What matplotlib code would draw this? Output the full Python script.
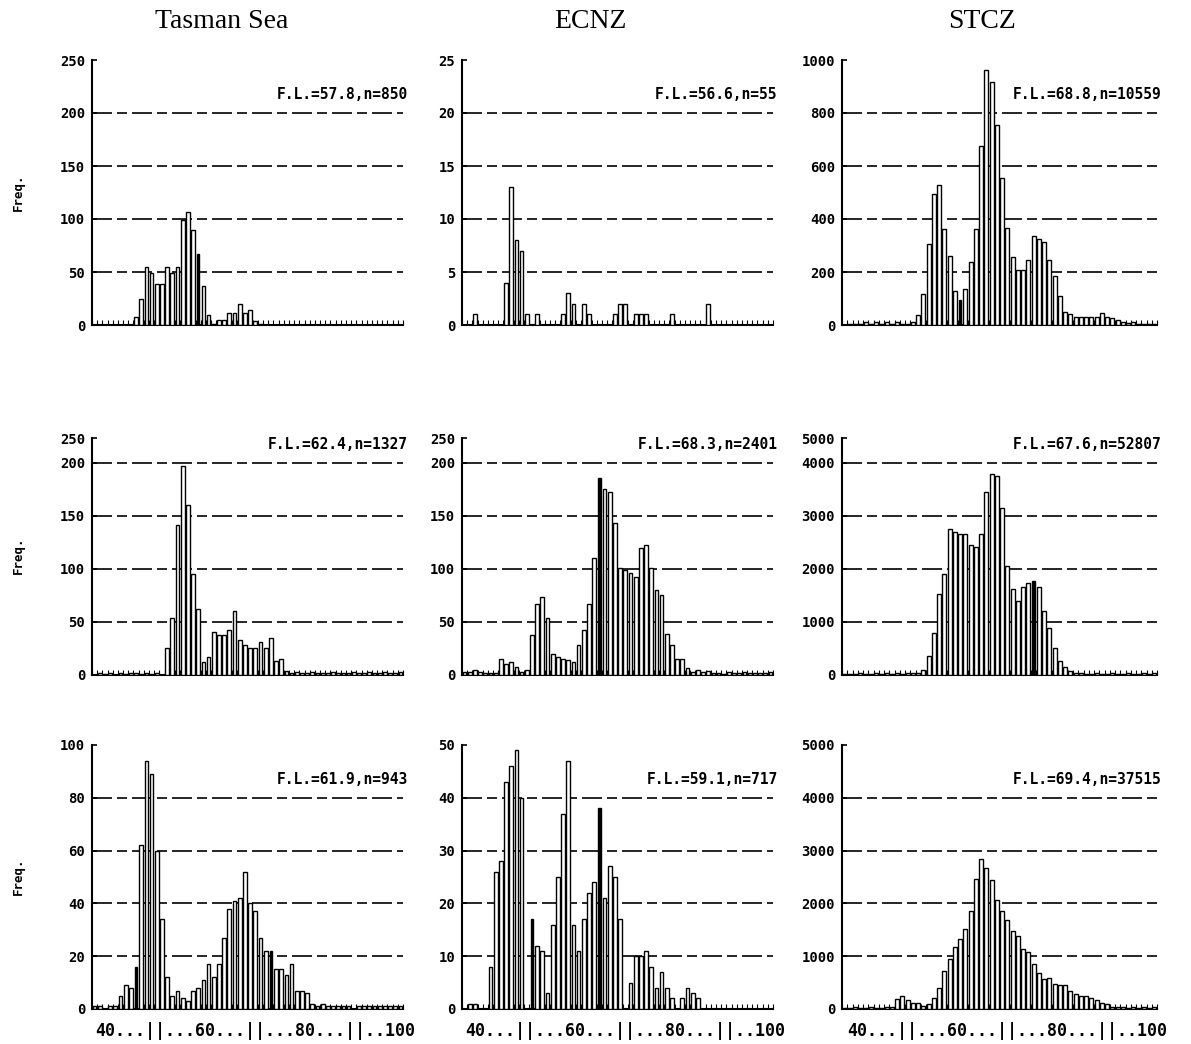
import matplotlib
matplotlib.use("Agg")
import matplotlib.pyplot as plt
import matplotlib.transforms as mtransforms
import numpy as np

# ---------------- data ----------------
regions = ["Tasman Sea", "ECNZ", "STCZ"]
length_classes = list(range(40, 100))          # 1-cm fork-length classes (left edges)
x_label_text = "40...||...60...||...80...||..100"

tasman_1 = [0, 0, 0, 0, 0, 0, 0, 0, 8, 25,
            55, 49, 39, 39, 55, 49, 55, 99, 107, 90,
            67, 37, 9, 1, 5, 5, 11, 11, 20, 11,
            14, 4, 1, 0, 0, 0, 0, 0, 0, 0,
            0, 0, 0, 0, 0, 0, 0, 0, 0, 0,
            0, 0, 0, 0, 0, 0, 0, 0, 0, 0]
ecnz_1 = [0, 0, 1, 0, 0, 0, 0, 0, 4, 13,
          8, 7, 1, 0, 1, 0, 0, 0, 0, 1,
          3, 2, 0, 2, 1, 0, 0, 0, 0, 1,
          2, 2, 0, 1, 1, 1, 0, 0, 0, 0,
          1, 0, 0, 0, 0, 0, 0, 2, 0, 0,
          0, 0, 0, 0, 0, 0, 0, 0, 0, 0]
stcz_1 = [0, 5, 5, 5, 10, 5, 10, 5, 10, 5,
          10, 5, 5, 10, 37, 118, 306, 495, 530, 363,
          260, 128, 95, 136, 239, 363, 677, 962, 916, 755,
          553, 365, 258, 207, 207, 245, 334, 326, 313, 245,
          186, 108, 50, 40, 30, 30, 30, 30, 30, 45,
          30, 25, 20, 12, 8, 10, 5, 5, 5, 5]

tasman_2 = [0, 2, 1, 2, 0, 2, 1, 2, 2, 1,
            2, 1, 2, 0, 25, 54, 141, 197, 160, 95,
            62, 12, 17, 41, 38, 38, 42, 60, 33, 28,
            25, 25, 31, 25, 35, 13, 15, 4, 2, 3,
            2, 2, 3, 2, 2, 2, 3, 2, 2, 2,
            3, 2, 2, 3, 2, 2, 3, 2, 2, 3]
ecnz_2 = [3, 3, 5, 3, 2, 2, 2, 15, 10, 12,
          8, 3, 5, 38, 67, 74, 54, 20, 17, 15,
          14, 12, 28, 42, 67, 110, 186, 175, 173, 143,
          101, 99, 96, 92, 120, 123, 101, 80, 75, 39,
          28, 15, 15, 7, 3, 5, 3, 4, 2, 2,
          1, 3, 2, 2, 3, 2, 2, 2, 2, 3]
stcz_2 = [20, 20, 20, 30, 20, 20, 30, 20, 30, 20,
          30, 20, 30, 30, 40, 88, 360, 800, 1527, 1905,
          2757, 2700, 2662, 2662, 2460, 2410, 2650, 3450, 3798, 3748,
          3155, 2050, 1621, 1388, 1653, 1729, 1780, 1653, 1211, 883,
          505, 265, 151, 76, 30, 30, 20, 20, 30, 20,
          20, 30, 20, 20, 30, 20, 20, 30, 20, 30]

tasman_3 = [1, 1, 0, 1, 1, 5, 9, 8, 16, 62,
            94, 89, 60, 34, 12, 5, 7, 4, 3, 7,
            8, 11, 17, 12, 17, 27, 38, 41, 42, 52,
            40, 37, 27, 22, 22, 15, 15, 13, 17, 7,
            7, 6, 2, 1, 2, 1, 1, 1, 1, 1,
            0, 1, 1, 1, 1, 1, 1, 1, 1, 1]
ecnz_3 = [0, 1, 1, 0, 0, 8, 26, 28, 43, 46,
          49, 40, 0, 17, 12, 11, 3, 16, 25, 37,
          47, 16, 11, 17, 22, 24, 38, 21, 27, 25,
          17, 0, 5, 10, 10, 11, 8, 4, 7, 4,
          2, 0, 2, 4, 3, 2, 0, 0, 0, 0,
          0, 0, 0, 0, 0, 0, 0, 0, 0, 0]
stcz_3 = [20, 20, 30, 20, 20, 30, 20, 20, 30, 40,
          185, 247, 167, 123, 105, 62, 93, 204, 389, 722,
          944, 1173, 1327, 1512, 1852, 2469, 2840, 2673, 2438, 2056,
          1852, 1685, 1481, 1377, 1130, 1080, 846, 679, 574, 586,
          475, 451, 451, 340, 278, 247, 247, 216, 167, 123,
          93, 40, 30, 30, 20, 30, 20, 30, 20, 30]

panel_values = [[tasman_1, ecnz_1, stcz_1],
                [tasman_2, ecnz_2, stcz_2],
                [tasman_3, ecnz_3, stcz_3]]
panel_notes = [["F.L.=57.8,n=850", "F.L.=56.6,n=55", "F.L.=68.8,n=10559"],
               ["F.L.=62.4,n=1327", "F.L.=68.3,n=2401", "F.L.=67.6,n=52807"],
               ["F.L.=61.9,n=943", "F.L.=59.1,n=717", "F.L.=69.4,n=37515"]]
scale_tops = [[250, 25, 1000], [250, 250, 5000], [100, 50, 5000]]
scale_steps = [[50, 5, 200], [50, 50, 1000], [20, 10, 1000]]
# bars printed as heavy black strokes in the original
dark_bins = [[[20], [], [22]], [[], [26], [36]], [[8, 34], [13, 26], []]]

# ---------------- layout (pixels) ----------------
W, H = 1191, 1044
col_left = [92, 462, 842]
col_width = [311, 311, 315]
row_top = [60, 438, 745]
row_bot = [325, 675, 1009]
title_x = [222, 590, 982]
freq_y = [192, 555, 876]

mono = "DejaVu Sans Mono"
fig = plt.figure(figsize=(W / 100, H / 100), dpi=100)
fig.patch.set_facecolor("white")

for c, name in enumerate(regions):
    fig.text(title_x[c] / W, 1 - 22 / H, name, ha="center", va="center",
             fontsize=20, family="Liberation Serif")

for r in range(3):
    fig.text(18 / W, 1 - freq_y[r] / H, "Freq.", rotation=90, ha="center",
             va="center", fontsize=9, family=mono, fontweight="bold")
    for c in range(3):
        L, Wd, T, B = col_left[c], col_width[c], row_top[r], row_bot[r]
        ax = fig.add_axes([L / W, 1 - B / H, Wd / W, (B - T) / H])
        vals = np.array(panel_values[r][c], dtype=float)
        centers = np.array(length_classes) + 0.5
        dark = dark_bins[r][c]
        normal = [i for i in range(len(vals)) if i not in dark]
        ax.bar(centers[normal], vals[normal], width=0.72, facecolor="white",
               edgecolor="black", linewidth=1.0, zorder=3)
        if dark:
            ax.bar(centers[dark], vals[dark], width=0.45, facecolor="black",
                   edgecolor="black", linewidth=1.0, zorder=4)

        top = scale_tops[r][c]
        step = scale_steps[r][c]
        ticks = list(np.arange(0, top + step / 2, step))
        labels = [str(int(t)) for t in ticks]
        ylim_top = top
        if r == 1:   # middle row: axis truncated, top label kept
            ylim_top = 0.894 * top
            ticks = ticks[:-1] + [ylim_top]
        ax.set_ylim(0, ylim_top)
        ax.set_xlim(40, 100)
        ax.set_yticks(ticks)
        ax.set_yticklabels(labels, family=mono, fontweight="bold", fontsize=10)
        for t in ticks[1:-1]:
            ax.axhline(t, color="black", linewidth=1.2, dashes=(12, 3, 6, 3),
                       zorder=2)

        ax.set_xticks([])
        ax.set_xticks(np.arange(40, 101), minor=True)
        ax.tick_params(axis="x", which="minor", direction="in", length=3.5,
                       width=0.8, labelbottom=False)
        ax.tick_params(axis="y", which="major", direction="in", length=3.5,
                       width=1.2, pad=5)
        for s in ("top", "right"):
            ax.spines[s].set_visible(False)
        ax.spines["left"].set_linewidth(1.5)
        ax.spines["bottom"].set_linewidth(1.5)

        trans = mtransforms.blended_transform_factory(ax.transAxes, ax.transData)
        ax.text(1.015, 0.87 * top, panel_notes[r][c], transform=trans,
                ha="right", va="center", family=mono, fontweight="bold",
                fontsize=10.5, zorder=6,
                bbox=dict(facecolor="white", edgecolor="none", pad=0.5))

        if r == 2:
            ax.text(0.5 + 8 / Wd, -22 / (B - T), x_label_text,
                    transform=ax.transAxes, ha="center", va="center",
                    family=mono, fontweight="bold", fontsize=12)

fig.savefig("out.png", dpi=100, facecolor="white")
